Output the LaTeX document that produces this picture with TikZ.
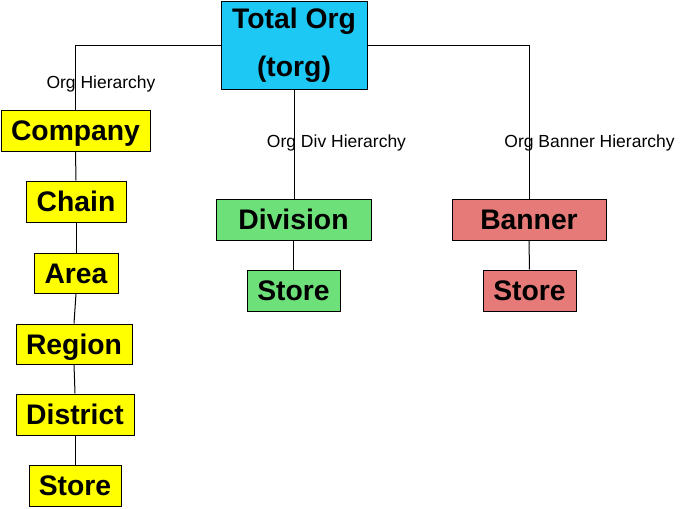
\documentclass[tikz,border=0pt]{standalone}
\usepackage{fontspec}
\setmainfont{Liberation Sans}
\definecolor{cyanbox}{HTML}{1EC8F5}
\definecolor{yellowbox}{HTML}{FFFF00}
\definecolor{greenbox}{HTML}{6EE07A}
\definecolor{redbox}{HTML}{E57A78}
\tikzset{
  box/.style={draw=black, line width=1pt, inner sep=0pt, font=\fontsize{28.3}{48}\selectfont\bfseries},
  one/.style={text height=20.3pt, text depth=0pt},
  lbl/.style={inner sep=0pt, font=\fontsize{17.5}{20}\selectfont},
  conn/.style={draw=black, line width=1pt}
}
\begin{document}
\begin{tikzpicture}[x=1pt,y=-1pt]
\useasboundingbox (0,0) rectangle (689,509);
\node[box, fill=cyanbox, minimum width=146pt, minimum height=88pt, align=center] (torg) at (294,45.5) {Total Org\\(torg)};
\node[box, one, fill=yellowbox, minimum width=149pt, minimum height=41pt] (company) at (75.5,130.5) {Company};
\node[box, one, fill=yellowbox, minimum width=100pt, minimum height=41pt] (chain) at (76,201.5) {Chain};
\node[box, one, fill=yellowbox, minimum width=84pt, minimum height=40pt] (area) at (76,273) {Area};
\node[box, one, fill=yellowbox, minimum width=116pt, minimum height=40pt] (region) at (74,344) {Region};
\node[box, one, fill=yellowbox, minimum width=118pt, minimum height=41pt] (district) at (75,414.5) {District};
\node[box, one, fill=yellowbox, minimum width=92pt, minimum height=41pt] (storey) at (75,485.5) {Store};
\node[box, one, fill=greenbox, minimum width=155pt, minimum height=41pt] (division) at (293.5,219.5) {Division};
\node[box, one, fill=greenbox, minimum width=93pt, minimum height=41pt] (storeg) at (293.5,290.5) {Store};
\node[box, one, fill=redbox, minimum width=154pt, minimum height=41pt] (banner) at (529,219.5) {Banner};
\node[box, one, fill=redbox, minimum width=93pt, minimum height=41pt] (storer) at (529.5,290.5) {Store};
\draw[conn] (torg.west) -| (company.north);
\draw[conn] (torg.east) -| (banner.north);
\draw[conn] (torg.south) -- (torg.south |- division.north);
\draw[conn] (company.south) -- (chain.north);
\draw[conn] (chain.south) -- (area.north);
\draw[conn] (area.south) -- (region.north);
\draw[conn] (region.south) -- (district.north);
\draw[conn] (district.south) -- (storey.north);
\draw[conn] (division.south) -- (storeg.north);
\draw[conn] (banner.south) -- (storer.north);
\node[lbl] (lorg) at (101,83.5) {Org Hierarchy};
\node[lbl] (ldiv) at (336.5,142.5) {Org Div Hierarchy};
\node[lbl] (lban) at (589.5,142.5) {Org Banner Hierarchy};
\end{tikzpicture}
\end{document}
